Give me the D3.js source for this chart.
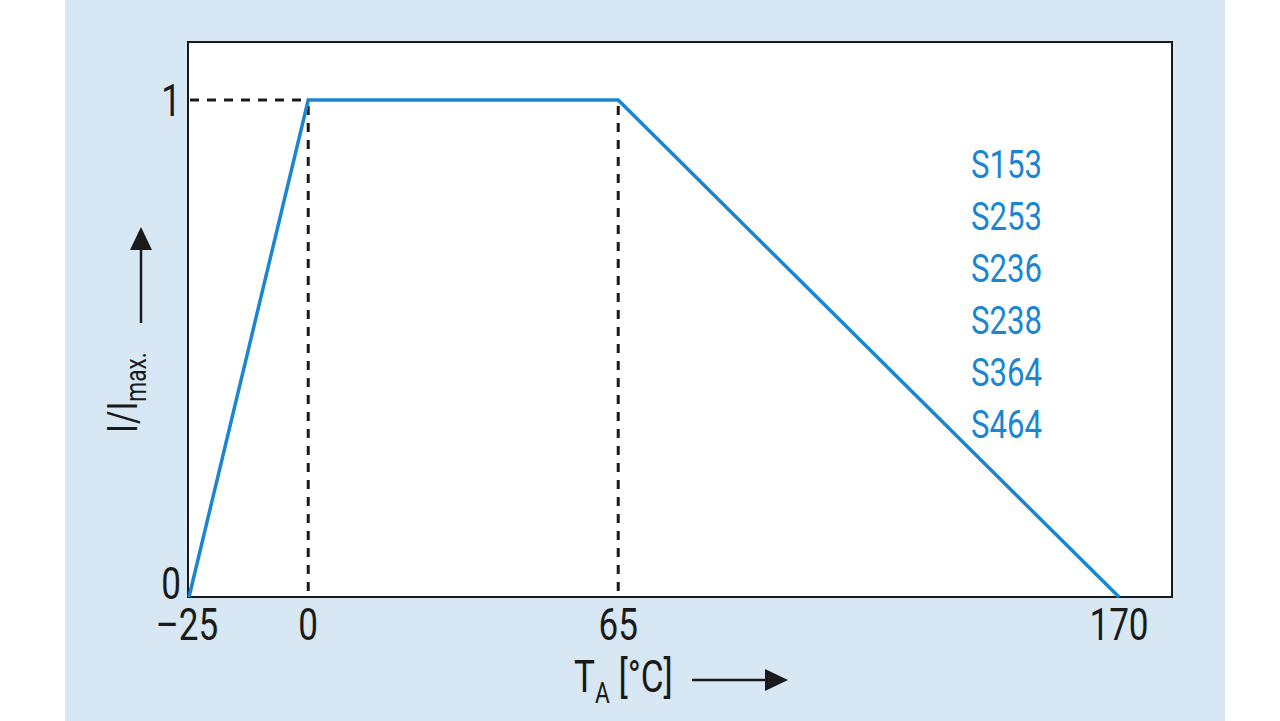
<!DOCTYPE html>
<html>
<head>
<meta charset="utf-8">
<script src="https://cdn.jsdelivr.net/npm/d3@7"></script>
<style>
  html, body { margin: 0; padding: 0; background: #ffffff; }
  svg { display: block; }
  text { font-family: Roboto, "Open Sans", "DejaVu Sans", sans-serif; }
</style>
</head>
<body>
<svg id="chart" width="1280" height="721"></svg>
<script>
// ---- data ----
const temperatures = [-25, 0, 65, 170];
const currentRatio = [0, 1, 1, 0];
const xTickValues = [-25, 0, 65, 170];
const xTickLabels = ["\u201325", "0", "65", "170"];
const yTickValues = [0, 1];
const yTickLabels = ["0", "1"];
const guideTemps = [0, 65];
const seriesNames = ["S153", "S253", "S236", "S238", "S364", "S464"];

// ---- layout ----
const W = 1280, H = 721;
const panel = { x: 65, w: 1160 };
const frame = { left: 188, right: 1172, top: 42, bottom: 597 };
const blue = "#1a86d1";
const ink = "#1a1a1a";
const SX = 0.78; // horizontal condensing to mimic a condensed face

const svg = d3.select("#chart");

svg.append("rect").attr("x", panel.x).attr("y", 0).attr("width", panel.w).attr("height", H)
  .attr("fill", "#d7e8f4");

svg.append("rect").attr("x", frame.left).attr("y", frame.top)
  .attr("width", frame.right - frame.left).attr("height", frame.bottom - frame.top)
  .attr("fill", "#ffffff");

const x = d3.scaleLinear().domain([-25, 170]).range([189, 1119]);
const y = d3.scaleLinear().domain([0, 1]).range([frame.bottom, 100]);

const pts = temperatures.map((t, i) => ({ t, v: currentRatio[i] }));

// dashed guides
const guides = svg.append("g").attr("stroke", ink).attr("stroke-width", 3)
  .attr("stroke-dasharray", "9,8").attr("fill", "none");
guides.append("line")
  .attr("x1", frame.left + 2).attr("x2", x(guideTemps[0]))
  .attr("y1", y(1)).attr("y2", y(1));
guides.selectAll("line.v").data(guideTemps).join("line").attr("class", "v")
  .attr("x1", d => x(d)).attr("x2", d => x(d))
  .attr("y1", y(1) + 6).attr("y2", y(0));

// frame border
svg.append("rect").attr("x", frame.left).attr("y", frame.top)
  .attr("width", frame.right - frame.left).attr("height", frame.bottom - frame.top)
  .attr("fill", "none").attr("stroke", ink).attr("stroke-width", 2);

// curve
const line = d3.line().x(d => x(d.t)).y(d => y(d.v));
svg.append("path").datum(pts).attr("d", line)
  .attr("fill", "none").attr("stroke", blue).attr("stroke-width", 3.5)
  .attr("stroke-linejoin", "miter");

// x tick labels
svg.append("g").selectAll("text").data(xTickValues).join("text")
  .attr("transform", d => `translate(${x(d) - (d < 0 ? 2 : 0)},${frame.bottom + 43}) scale(${SX},1)`)
  .attr("text-anchor", "middle")
  .attr("font-size", 45)
  .attr("fill", ink)
  .text((d, i) => xTickLabels[i]);

// y tick labels
svg.append("g").selectAll("text").data(yTickValues).join("text")
  .attr("transform", d => `translate(${frame.left - 7},${y(d) + (d === 0 ? 2 : 16)}) scale(${SX},1)`)
  .attr("text-anchor", "end")
  .attr("font-size", 45)
  .attr("fill", ink)
  .text((d, i) => yTickLabels[i]);

// series names
svg.append("g").selectAll("text").data(seriesNames).join("text")
  .attr("transform", (d, i) => `translate(971,${178 + i * 52}) scale(0.82,1)`)
  .attr("font-size", 38)
  .attr("fill", blue)
  .text(d => d);

// x title
const xt = svg.append("text").attr("transform", `translate(574,692) scale(${SX},1)`)
  .attr("font-size", 45).attr("fill", ink);
xt.append("tspan").text("T");
xt.append("tspan").attr("font-size", 29).attr("dy", 11).text("A");
xt.append("tspan").attr("dy", -11).text(" [\u00B0C]");

// x arrow
svg.append("line").attr("x1", 692).attr("x2", 770).attr("y1", 680).attr("y2", 680)
  .attr("stroke", ink).attr("stroke-width", 2.5);
svg.append("path").attr("d", "M765,669 L788,680 L765,691 Z").attr("fill", ink);

// y title
const yt = svg.append("text").attr("transform", `translate(137,433) rotate(-90) scale(${SX},1)`)
  .attr("font-size", 42).attr("fill", ink);
yt.append("tspan").text("I/I");
yt.append("tspan").attr("font-size", 29).attr("dy", 9).text("max.");

// y arrow
svg.append("line").attr("x1", 141).attr("x2", 141).attr("y1", 323).attr("y2", 245)
  .attr("stroke", ink).attr("stroke-width", 2.5);
svg.append("path").attr("d", "M130,250 L141,227 L152,250 Z").attr("fill", ink);
</script>
</body>
</html>
